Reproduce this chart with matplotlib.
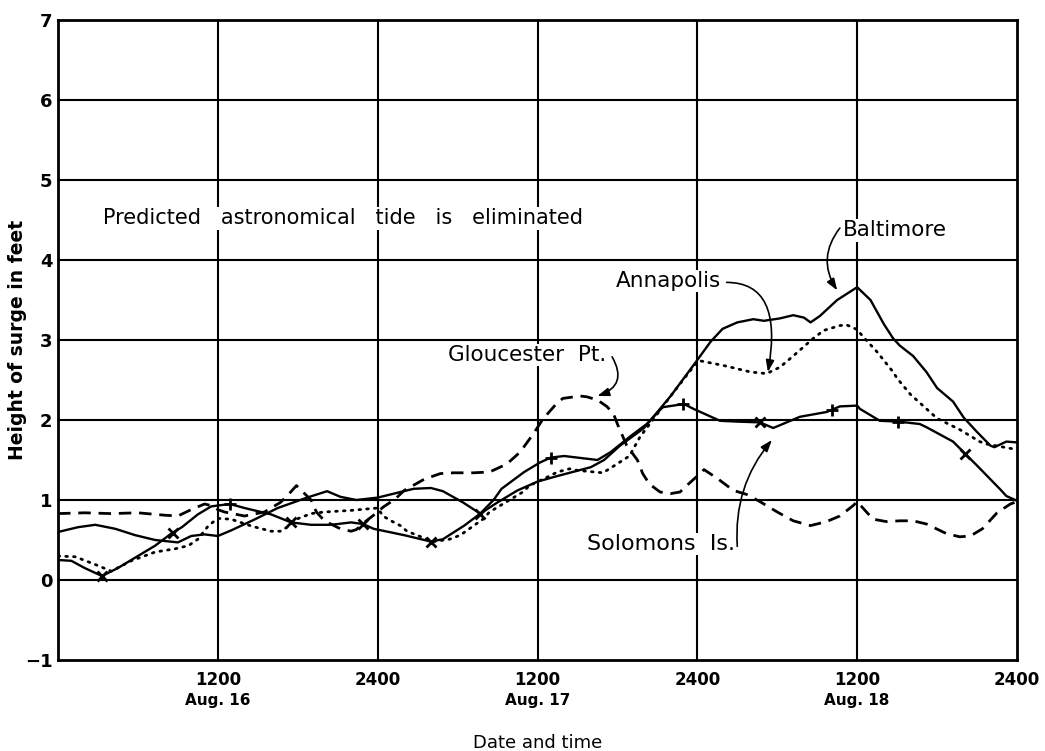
import numpy as np
import matplotlib
matplotlib.use("Agg")
import matplotlib.pyplot as plt
from matplotlib.transforms import blended_transform_factory

# ---------------- data (hours from 0000 Aug. 16, surge in feet) ----------------
balt_h = [0, 1.5, 2.8, 4.3, 5.8, 7.3, 9, 10, 11, 12, 13, 14.8, 16.5, 18.7, 20.2, 21.2, 22.4, 24,
          26.7, 28, 28.9, 30.4, 31.7, 33, 34.5, 36, 37.5, 40, 41, 42.2, 44, 46, 48, 49, 49.9, 51,
          52.2, 53, 54.2, 55.2, 56, 56.5, 57.2, 58.5, 60, 61, 62, 62.7, 63.2, 64.2, 65.2, 66,
          67.2, 68, 69, 70, 70.3, 71.2, 72]
balt_v = [0.6, 0.66, 0.69, 0.64, 0.56, 0.5, 0.47, 0.55, 0.57, 0.55, 0.62, 0.76, 0.9, 1.03, 1.11,
          1.04, 1.0, 1.03, 1.14, 1.15, 1.11, 0.97, 0.83, 0.97, 1.12, 1.23, 1.3, 1.41, 1.5, 1.68,
          1.9, 2.3, 2.75, 2.98, 3.14, 3.22, 3.26, 3.24, 3.27, 3.31, 3.28, 3.22, 3.3, 3.5, 3.66,
          3.5, 3.2, 3.02, 2.93, 2.8, 2.6, 2.4, 2.23, 2.03, 1.85, 1.68, 1.66, 1.73, 1.72]

anna_h = [0, 1.3, 3, 4, 5.5, 7.3, 8.8, 9.8, 10.5, 11.3, 12, 13, 14.6, 16, 16.7, 17.4, 17.9, 19,
          20, 22, 24, 24.4, 25, 25.7, 26.2, 27.7, 28.2, 29.4, 30.2, 31.9, 32.4, 34.9, 35.4, 36.9,
          37.5, 38.4, 39, 40.9, 41.4, 42.9, 43.7, 44.2, 46, 48, 48.2, 50, 52, 53.2, 54.2, 55.2,
          56.7, 57.5, 58.7, 59.2, 60, 60.4, 61.5, 62.7, 63, 64, 65.2, 66, 67.7, 69.2, 69.7, 72]
anna_v = [0.3, 0.29, 0.18, 0.11, 0.24, 0.35, 0.39, 0.43, 0.51, 0.68, 0.77, 0.76, 0.67, 0.61, 0.61,
          0.68, 0.76, 0.83, 0.85, 0.87, 0.9, 0.8, 0.74, 0.68, 0.61, 0.51, 0.48, 0.51, 0.56, 0.76,
          0.85, 1.1, 1.18, 1.3, 1.35, 1.39, 1.37, 1.34, 1.39, 1.55, 1.79, 1.9, 2.3, 2.73, 2.74,
          2.68, 2.6, 2.58, 2.66, 2.8, 3.02, 3.12, 3.18, 3.19, 3.13, 3.05, 2.85, 2.6, 2.52, 2.32,
          2.14, 2.02, 1.88, 1.73, 1.7, 1.63]

glou_h = [0, 2, 4, 6, 8, 9, 10, 11, 11.5, 12, 12.5, 14, 15.5, 16.7, 17.2, 17.9, 19, 19.4, 20,
          21.2, 22, 22.4, 23, 24, 24.4, 25.3, 26, 27.5, 28.7, 29.7, 31.2, 32.4, 33.7, 34.7, 35.7,
          36.4, 37.4, 37.9, 39.2, 39.7, 40.5, 41.2, 41.7, 42, 42.7, 43.5, 43.9, 44.4, 45.2, 46,
          46.7, 47.2, 48, 48.5, 49.5, 50.7, 51.7, 52.7, 54, 55.2, 56.5, 57.7, 58.7, 59.7, 60,
          60.7, 61.2, 62.2, 63.2, 64.2, 65.2, 66.7, 67.7, 68.5, 69.4, 70.5, 71.5, 72]
glou_v = [0.83, 0.84, 0.83, 0.84, 0.81, 0.8, 0.88, 0.95, 0.93, 0.88, 0.85, 0.8, 0.85, 0.97, 1.05,
          1.18, 1.0, 0.85, 0.74, 0.64, 0.61, 0.63, 0.72, 0.85, 0.91, 1.01, 1.12, 1.26, 1.33, 1.34,
          1.34, 1.35, 1.45, 1.6, 1.83, 2.01, 2.2, 2.27, 2.3, 2.29, 2.25, 2.17, 2.08, 1.95, 1.68,
          1.5, 1.33, 1.2, 1.1, 1.08, 1.1, 1.18, 1.3, 1.38, 1.27, 1.12, 1.07, 0.98, 0.85, 0.74,
          0.68, 0.73, 0.8, 0.93, 0.98, 0.85, 0.76, 0.73, 0.74, 0.74, 0.7, 0.58, 0.54, 0.55, 0.64,
          0.84, 0.95, 0.98]

solo_h = [0, 1, 2, 3.3, 4.5, 6, 7.3, 8.5, 9.3, 10.5, 11.5, 12.9, 14, 16, 17.5, 19, 20.5, 22, 22.9,
          23.7, 26, 28, 28.9, 30.5, 31.7, 32.7, 33.3, 35, 36.2, 37, 38, 40.5, 41.5, 43, 44.2,
          45.4, 47, 47.7, 49.7, 51, 52.7, 53.7, 55.7, 57.7, 58.7, 60, 60.2, 61.7, 63.1, 64.7,
          65.2, 67.2, 68.1, 69, 70.7, 71.2, 72]
solo_v = [0.25, 0.24, 0.15, 0.05, 0.15, 0.3, 0.43, 0.58, 0.66, 0.82, 0.92, 0.95, 0.9, 0.82, 0.72,
          0.69, 0.69, 0.72, 0.7, 0.64, 0.56, 0.48, 0.51, 0.68, 0.83, 1.0, 1.14, 1.35, 1.47, 1.53,
          1.55, 1.5, 1.6, 1.8, 1.95, 2.16, 2.2, 2.14, 1.99, 1.98, 1.97, 1.9, 2.04, 2.1, 2.17,
          2.18, 2.14, 1.99, 1.98, 1.95, 1.91, 1.73, 1.58, 1.43, 1.14, 1.05, 0.99]
solo_xmark_h = [3.3, 8.6, 17.5, 22.9, 28, 31.7, 52.7, 68.1]
solo_plus_h = [12.9, 37, 46.9, 58.1, 63.1]

x_ticks = [12, 24, 36, 48, 60, 72]
x_tick_labels = ["1200", "2400", "1200", "2400", "1200", "2400"]
day_labels = ["Aug. 16", "Aug. 17", "Aug. 18"]
day_label_pos = [12, 36, 60]
y_ticks = [-1, 0, 1, 2, 3, 4, 5, 6, 7]
y_tick_labels = ["\u22121", "0", "1", "2", "3", "4", "5", "6", "7"]

# ---------------- figure ----------------
plt.rcParams['font.family'] = ['DejaVu Sans']
fig = plt.figure(figsize=(10.45, 7.51), dpi=100)
ax = fig.add_axes([58 / 1045, 1 - 660 / 751, (1017 - 58) / 1045, (660 - 20) / 751])
ax.set_xlim(0, 72)
ax.set_ylim(-1, 7)

for yv in y_ticks[1:-1]:
    ax.axhline(yv, color='black', lw=1.5, zorder=1)
for xv in x_ticks[:-1]:
    ax.axvline(xv, color='black', lw=1.5, zorder=1)
for s in ax.spines.values():
    s.set_linewidth(2.0)

lw = 1.7
ax.plot(balt_h, balt_v, color='black', lw=lw, solid_joinstyle='round', zorder=3)
ax.plot(anna_h, anna_v, color='black', lw=2.0, linestyle=(0, (0.6, 2.2)),
        dash_capstyle='round', zorder=3)
ax.plot(glou_h, glou_v, color='black', lw=lw + 0.3, linestyle=(0, (4.5, 2.8)), zorder=3)
ax.plot(solo_h, solo_v, color='black', lw=lw, solid_joinstyle='round', zorder=3)
ax.plot(solo_xmark_h, np.interp(solo_xmark_h, solo_h, solo_v), linestyle='none', marker='x',
        ms=7, mew=2.0, color='black', zorder=4)
ax.plot(solo_plus_h, np.interp(solo_plus_h, solo_h, solo_v), linestyle='none', marker='+',
        ms=8, mew=2.0, color='black', zorder=4)

ax.set_xticks(x_ticks)
ax.set_xticklabels(x_tick_labels, fontsize=12, fontweight='bold')
ax.set_yticks(y_ticks)
ax.set_yticklabels(y_tick_labels, fontsize=13, fontweight='bold')
ax.tick_params(axis='y', length=0, pad=4)
ax.tick_params(axis='x', length=0, pad=8)

trans = blended_transform_factory(ax.transData, ax.transAxes)
for d, xpos in zip(day_labels, day_label_pos):
    ax.text(xpos, -0.052, d, transform=trans, ha='center', va='top', fontsize=11,
            fontweight='bold')

ax.set_xlabel("Date and time", fontsize=13, labelpad=32)
fig.text(18 / 1045, 1 - 340 / 751, "Height of surge in feet", rotation=90, fontsize=13.5,
         fontweight='bold', ha='center', va='center')

ax.text(3.4, 4.52, "Predicted   astronomical   tide   is   eliminated", fontsize=15,
        va='center', ha='left', zorder=5,
        bbox=dict(facecolor='white', edgecolor='none', pad=1))

arrow = dict(arrowstyle='-|>,head_length=0.7,head_width=0.25', color='black', lw=1.2,
             shrinkA=0, shrinkB=0)
ax.text(58.9, 4.37, "Baltimore", fontsize=15.5, va='center', ha='left', zorder=5,
        bbox=dict(facecolor='white', edgecolor='none', pad=1))
ax.annotate("", xy=(58.5, 3.62), xytext=(58.7, 4.4),
            arrowprops=dict(connectionstyle='arc3,rad=0.35', **arrow), zorder=6)
ax.text(41.9, 3.74, "Annapolis", fontsize=15.5, va='center', ha='left', zorder=5,
        bbox=dict(facecolor='white', edgecolor='none', pad=1))
ax.annotate("", xy=(53.3, 2.6), xytext=(50.2, 3.72),
            arrowprops=dict(connectionstyle='angle3,angleA=0,angleB=80', **arrow), zorder=6)
ax.text(29.3, 2.81, "Gloucester  Pt.", fontsize=15.5, va='center', ha='left', zorder=5,
        bbox=dict(facecolor='white', edgecolor='none', pad=1))
ax.annotate("", xy=(40.5, 2.3), xytext=(41.6, 2.79),
            arrowprops=dict(connectionstyle='arc3,rad=-0.6', **arrow), zorder=6)
ax.text(39.7, 0.45, "Solomons  Is.", fontsize=16, va='center', ha='left', zorder=5,
        bbox=dict(facecolor='white', edgecolor='none', pad=1))
ax.annotate("", xy=(53.6, 1.75), xytext=(51.0, 0.42),
            arrowprops=dict(connectionstyle='arc3,rad=-0.2', **arrow), zorder=6)

fig.savefig("out.png", dpi=100, facecolor='white')
